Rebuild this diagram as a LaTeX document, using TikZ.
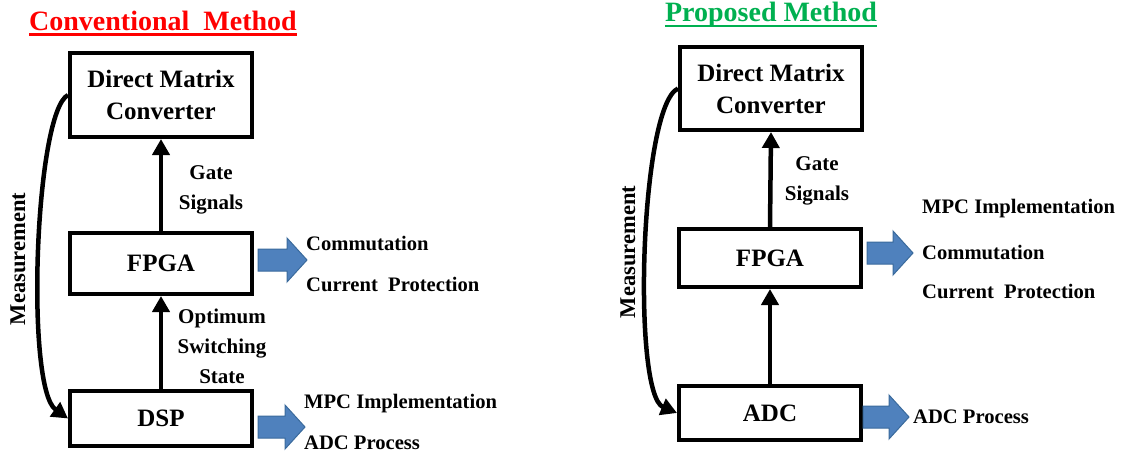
\documentclass[tikz,border=0pt]{standalone}
\usepackage{fontspec}
\setmainfont{Liberation Serif}
\usetikzlibrary{arrows.meta}
\definecolor{titlered}{HTML}{FF0000}
\definecolor{titlegreen}{HTML}{00B050}
\definecolor{arrowblue}{HTML}{4F81BD}
\definecolor{arrowedge}{HTML}{3A6A9C}

\begin{document}
\begin{tikzpicture}[x=1pt,y=-1pt,
  box/.style={draw=black, line width=4pt, fill=white, minimum width=182pt,
    minimum height=#1, align=center, inner sep=0pt,
    font=\fontsize{25}{32}\selectfont\bfseries},
  conn/.style={line width=4.5pt, -{Triangle[length=16pt,width=17pt]}},
  lbl/.style={font=\fontsize{21}{30}\selectfont\bfseries, align=center, inner sep=0pt},
  side/.style={anchor=west, font=\fontsize{20.6}{24}\selectfont\bfseries, inner sep=0pt},
  ttl/.style={font=\fontsize{28}{32}\selectfont\bfseries, inner sep=0pt},
  uline/.style={line width=2.2pt},
  meas/.style={rotate=90, font=\fontsize{22.5}{26}\selectfont\bfseries, inner sep=0pt},
  blk/.pic={\draw[fill=arrowblue, draw=arrowedge, line width=1pt]
    (0,-11) -- (#1,-11) -- (#1,-22) -- ({#1+20},0) -- (#1,22) -- (#1,11) -- (0,11) -- cycle;},
]
\useasboundingbox (0,0) rectangle (1128,455);

% ---------- conventional method ----------
\node[ttl, text=titlered] (t1) at (163,21) {Conventional\ \ Method};
\draw[uline, titlered] ([yshift=-4pt]t1.base west) -- ([yshift=-4pt]t1.base east);
\node[box=84pt] (dmc1) at (161,95) {Direct Matrix\\Converter};
\node[box=61pt] (fpga1) at (161,263.5) {FPGA};
\node[box=55pt] (dsp1) at (161,418.5) {DSP};

\draw[conn] (fpga1.north) -- (dmc1.south);
\draw[conn] (dsp1.north) -- (fpga1.south);
\draw[conn] (dmc1.west) .. controls (35,112) and (25,388) .. (dsp1.west);

\node[lbl] (gs1) at (211,190) {Gate\\Signals};
\node[lbl] (oss1) at (222,346) {Optimum\\Switching\\State};
\node[meas] (m1) at (18,259) {Measurement};

\pic at (258,260) {blk=29};
\pic at (258,427) {blk=27};
\node[side] (c1) at (306,243) {Commutation};
\node[side] (p1) at (306,284) {Current\ \ Protection};
\node[side] (mpc1) at (304,404) {MPC Implementation};
\node[side] (adc1t) at (304,443) {ADC Process};

% ---------- proposed method ----------
\node[ttl, text=titlegreen] (t2) at (771,15) {Proposed Method};
\draw[uline, titlegreen] ([yshift=-4pt]t2.base west) -- ([yshift=-4pt]t2.base east);
\node[box=83pt] (dmc2) at (771,88.5) {Direct Matrix\\Converter};
\node[box=58pt] (fpga2) at (770,258) {FPGA};
\node[box=54pt] (adc2) at (770,413) {ADC};

\draw[conn] (fpga2.north) -- (dmc2.south);
\draw[conn] (adc2.north) -- (fpga2.south);
\draw[conn] (dmc2.west) .. controls (640,106) and (632,394) .. (adc2.west);

\node[lbl] (gs2) at (817,181) {Gate\\Signals};
\node[meas] (m2) at (628,252) {Measurement};

\pic at (867,253) {blk=26};
\pic at (863,417) {blk=26};
\node[side] (mpc2) at (922,209) {MPC Implementation};
\node[side] (c2) at (922,252) {Commutation};
\node[side] (p2) at (922,291) {Current\ \ Protection};
\node[side] (adc2t) at (913,417) {ADC Process};
\end{tikzpicture}
\end{document}
